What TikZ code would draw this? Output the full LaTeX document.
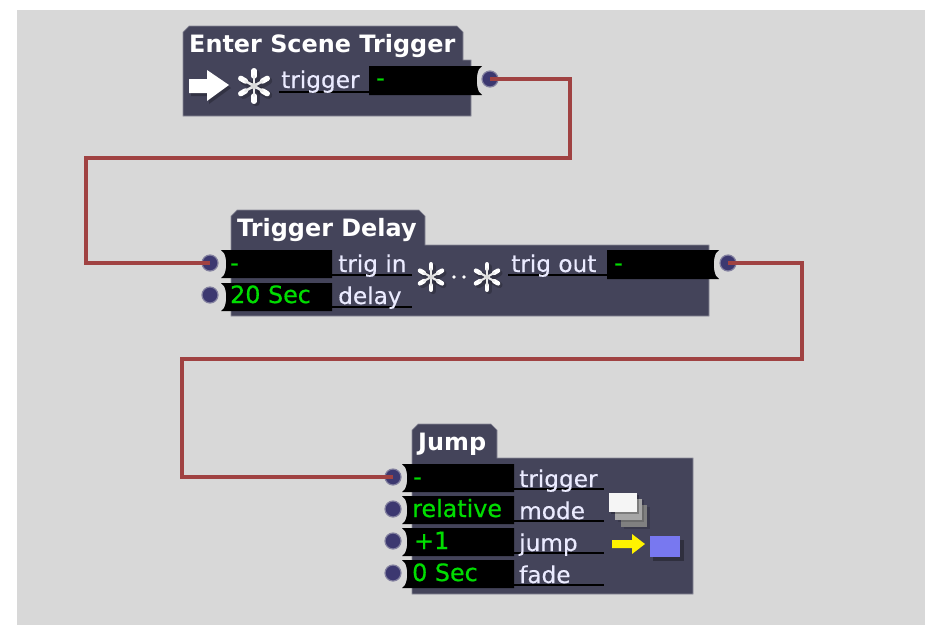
\documentclass[tikz,border=0pt]{standalone}
\usepackage{fontspec}
\setmainfont{DejaVu Sans}
\newfontfamily\labfont[FakeBold=0.35]{DejaVu Sans}
\newfontfamily\valfont[FakeBold=0.6]{DejaVu Sans}
\definecolor{bgc}{HTML}{D8D8D8}
\definecolor{body}{HTML}{44445A}
\definecolor{edge}{HTML}{8A8A98}
\definecolor{wire}{HTML}{A04242}
\definecolor{portc}{HTML}{3C3870}
\definecolor{val}{HTML}{00DD00}
\definecolor{bluebox}{HTML}{7878F0}
\tikzset{
  module/.style={fill=body,draw=edge,line width=0.7pt},
  title/.style={anchor=base west,inner sep=0pt,text=white,font=\fontsize{23.9}{24}\selectfont\bfseries},
  lab/.style={anchor=base west,inner sep=0pt,text=white!92!blue,font=\labfont\fontsize{23.2}{24}\selectfont},
  valtxt/.style={anchor=base west,inner sep=0pt,text=val,font=\valfont\fontsize{23.8}{24}\selectfont},
  port/.style={circle,fill=portc,draw=portc!55!bgc,line width=1.2pt,minimum size=16pt,inner sep=0pt},
  wirepath/.style={draw=wire,line width=4.5pt,line join=miter},
  uline/.style={draw=black,line width=1.6pt},
  fieldc/.style={fill=black},
}
% left-notched field: x1 x2 ytop ybottom
\newcommand{\fieldL}[4]{\fill[fieldc] (#1-1,#3) -- (#2,#3) -- (#2,#4) -- (#1-1,#4) -- (#1+2,#4-3) .. controls (#1+5,#4-9) and (#1+5,#3+9) .. (#1+2,#3+3) -- cycle;}
% right-notched field
\newcommand{\fieldR}[4]{\fill[fieldc] (#1,#3) -- (#2+1,#3) -- (#2-2,#3+3) .. controls (#2-5,#3+9) and (#2-5,#4-9) .. (#2-2,#4-3) -- (#2+1,#4) -- (#1,#4) -- cycle;}
% asterisk: x y radius
\newcommand{\asterisk}[3]{%
  \foreach \a in {30,90,150,210,270,330}{
    \draw[black,opacity=.22,line width=#3*0.42pt,line cap=round] (#1+2+#3*0.3*cos \a,#2+2+#3*0.3*sin \a) -- (#1+2+#3*0.8*cos \a,#2+2+#3*0.8*sin \a);}
  \foreach \a in {30,90,150,210,270,330}{
    \draw[white,line width=#3*0.3pt,line cap=round] (#1+#3*0.55*cos \a,#2+#3*0.55*sin \a) -- (#1+#3*0.85*cos \a,#2+#3*0.85*sin \a);
    \draw[white!85!gray,line width=#3*0.14pt,line cap=round] (#1+#3*0.1*cos \a,#2+#3*0.1*sin \a) -- (#1+#3*0.55*cos \a,#2+#3*0.55*sin \a);}
  \fill[white!70!gray] (#1,#2) circle (#3*0.18);
}
\begin{document}
\begin{tikzpicture}[x=1pt,y=-1pt]
\useasboundingbox (0,0) rectangle (925,625);
\fill[white] (0,0) rectangle (925,625);
\fill[bgc] (17,10) rectangle (925,625);

% ---- module bodies
\path[module] (183,116) -- (183,32) -- (189,26) -- (457,26) -- (463,32) -- (463,60) -- (471,60) -- (471,116) -- cycle;
\path[module] (231,316) -- (231,216) -- (237,210) -- (419,210) -- (425,216) -- (425,245) -- (709,245) -- (709,316) -- cycle;
\path[module] (412,594) -- (412,430) -- (418,424) -- (491,424) -- (497,430) -- (497,458) -- (693,458) -- (693,594) -- cycle;

% ---- titles
\node[title] (t1) at (189,52) {Enter Scene Trigger};
\node[title] (t2) at (237,236) {Trigger Delay};
\node[title] (t3) at (418,450) {Jump};

% ---- underlines
\draw[uline] (279,92) -- (369,92);
\draw[uline] (332,275) -- (412,275);
\draw[uline] (332,307) -- (412,307);
\draw[uline] (508,275) -- (607,275);
\foreach \yy in {489,521,553,585}{\draw[uline] (514,\yy) -- (604,\yy);}

% ---- fields
\fieldR{369}{481}{66}{95}
\fieldL{222}{332}{250}{278}
\fieldL{222}{332}{283}{311}
\fieldR{607}{718}{250}{279}
\fieldL{403}{514}{464}{492}
\fieldL{403}{514}{496}{524}
\fieldL{403}{514}{528}{556}
\fieldL{403}{514}{560}{588}

% ---- field values
\node[valtxt] (v1) at (376,86) {-};
\node[valtxt] (v2) at (230,271) {-};
\node[valtxt] (v3) at (230,303) {20 Sec};
\node[valtxt] (v4) at (614,271) {-};
\node[valtxt] (v5) at (413,485) {-};
\node[valtxt] (v6) at (412,517) {relative};
\node[valtxt] (v7) at (414,549) {+1};
\node[valtxt] (v8) at (412,581) {0 Sec};

% ---- labels
\node[lab] (l1) at (281,88) {trigger};
\node[lab] (l2) at (338,272) {trig in};
\node[lab] (l3) at (338,304) {delay};
\node[lab] (l4) at (511,272) {trig out};
\node[lab] (l5) at (519,487) {trigger};
\node[lab] (l6) at (519,519) {mode};
\node[lab] (l7) at (519,551) {jump};
\node[lab] (l8) at (519,583) {fade};

% ---- enter icon
\fill[black,opacity=.25] (191,82) -- (209,82) -- (209,73) -- (231,88) -- (209,104) -- (209,96) -- (191,96) -- cycle;
\fill[white] (189,79) -- (207,79) -- (207,70) -- (229,85) -- (207,101) -- (207,93) -- (189,93) -- cycle;
\asterisk{254}{86}{18}

% ---- delay icons
\asterisk{431}{277}{15}
\asterisk{487}{277}{15}
\fill[white] (454,277) circle (1.8);
\fill[white] (464,277) circle (1.8);

% ---- jump icons
\fill[black,opacity=.15] (624,507) rectangle (650,529);
\fill[gray] (621,505) rectangle (647,527);
\fill[black,opacity=.15] (618,500) rectangle (644,522);
\fill[gray!70] (615,499) rectangle (642,520);
\fill[black,opacity=.25] (611,495) rectangle (639,514);
\fill[white!92!gray] (609,493) rectangle (637,512);

\fill[yellow] (612,540) -- (632,540) -- (632,534) -- (645,544) -- (632,554) -- (632,548) -- (612,548) -- cycle;
\fill[black,opacity=.3] (653,540) rectangle (684,561);
\fill[bluebox] (650,536) rectangle (680,557);

% ---- ports
\node[port] (p1) at (490,79) {};
\node[port] (p2) at (210,263) {};
\node[port] (p3) at (210,295) {};
\node[port] (p4) at (728,263) {};
\node[port] (p5) at (393,477) {};
\node[port] (p6) at (393,509) {};
\node[port] (p7) at (393,541) {};
\node[port] (p8) at (393,573) {};

% ---- wires
\coordinate (a1) at (570,79);
\coordinate (a2) at (570,158);
\coordinate (a3) at (86,158);
\coordinate (a4) at (86,263);
\coordinate (b1) at (802,263);
\coordinate (b2) at (802,359);
\coordinate (b3) at (182,359);
\coordinate (b4) at (182,477);
\draw[wirepath] (p1.center) -- (a1) -- (a2) -- (a3) -- (a4) -- (p2.center);
\draw[wirepath] (p4.center) -- (b1) -- (b2) -- (b3) -- (b4) -- (p5.center);
\end{tikzpicture}
\end{document}
